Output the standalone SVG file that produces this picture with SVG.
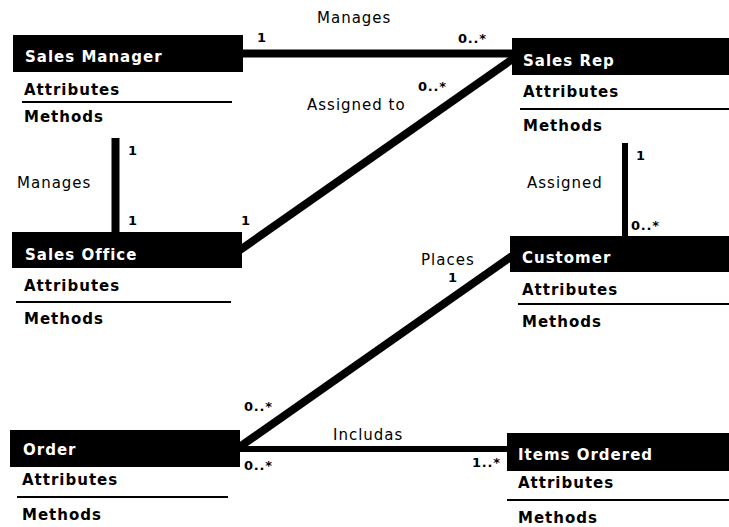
<svg xmlns="http://www.w3.org/2000/svg" width="729" height="527" viewBox="0 0 729 527">
<style>
text{font-family:"DejaVu Sans","Liberation Sans",Arial,sans-serif;font-size:15px;letter-spacing:1px;fill:#000}
.h{fill:#000}
.ht{fill:#fff;font-weight:bold}
.b{font-weight:bold}
.sep{stroke:#000;stroke-width:2}
.c{stroke:#000;stroke-width:8;fill:none}
.c2{stroke:#000;stroke-width:6;fill:none}
.m{font-weight:bold;font-size:13px;letter-spacing:0.8px}
</style>
<rect width="729" height="527" fill="#fff"/>
<g id="connectors">
<line class="c" x1="243" y1="53.5" x2="512" y2="53.5"/>
<line class="c" x1="115.5" y1="138" x2="115.5" y2="232"/>
<line class="c2" x1="625" y1="143" x2="625" y2="236"/>
<line class="c" x1="240" y1="250" x2="514" y2="58"/>
<line class="c" x1="238" y1="448" x2="512" y2="256"/>
<line class="c2" x1="240" y1="449" x2="507" y2="449"/>
<text x="317" y="23">Manages</text>
<text class="m" x="257" y="42">1</text>
<text class="m" x="458" y="43">0..*</text>
<text class="m" x="418" y="91">0..*</text>
<text x="307" y="110">Assigned to</text>
<text x="17" y="188">Manages</text>
<text class="m" x="128" y="155">1</text>
<text class="m" x="128" y="225">1</text>
<text class="m" x="241" y="225">1</text>
<text x="527" y="188">Assigned</text>
<text class="m" x="636" y="160">1</text>
<text class="m" x="631" y="230">0..*</text>
<text x="421" y="265">Places</text>
<text class="m" x="448" y="282">1</text>
<text class="m" x="244" y="411">0..*</text>
<text class="m" x="244" y="470">0..*</text>
<text x="333" y="440">Includas</text>
<text class="m" x="472" y="467">1..*</text>
</g>
<g id="sales-manager">
<rect class="h" x="13" y="35" width="230" height="37"/>
<text class="ht" x="25" y="62">Sales Manager</text>
<text class="b" x="24" y="95">Attributes</text>
<line class="sep" x1="22" y1="102" x2="232" y2="102"/>
<text class="b" x="24" y="122">Methods</text>
</g>
<g id="sales-rep">
<rect class="h" x="512" y="38" width="217" height="37"/>
<text class="ht" x="523" y="66">Sales Rep</text>
<text class="b" x="523" y="97">Attributes</text>
<line class="sep" x1="520" y1="109" x2="729" y2="109"/>
<text class="b" x="523" y="131">Methods</text>
</g>
<g id="sales-office">
<rect class="h" x="12" y="232" width="230" height="36"/>
<text class="ht" x="25" y="260">Sales Office</text>
<text class="b" x="24" y="291">Attributes</text>
<line class="sep" x1="16" y1="302" x2="231" y2="302"/>
<text class="b" x="24" y="324">Methods</text>
</g>
<g id="customer">
<rect class="h" x="510" y="236" width="219" height="36"/>
<text class="ht" x="522" y="263">Customer</text>
<text class="b" x="522" y="295">Attributes</text>
<line class="sep" x1="518" y1="304" x2="729" y2="304"/>
<text class="b" x="522" y="327">Methods</text>
</g>
<g id="order">
<rect class="h" x="10" y="430" width="230" height="37"/>
<text class="ht" x="23" y="455">Order</text>
<text class="b" x="22" y="485">Attributes</text>
<line class="sep" x1="17" y1="497" x2="228" y2="497"/>
<text class="b" x="22" y="520">Methods</text>
</g>
<g id="items-ordered">
<rect class="h" x="507" y="433" width="222" height="38"/>
<text class="ht" x="518" y="460">Items Ordered</text>
<text class="b" x="518" y="488">Attributes</text>
<line class="sep" x1="507" y1="500" x2="729" y2="500"/>
<text class="b" x="518" y="523">Methods</text>
</g>
</svg>
